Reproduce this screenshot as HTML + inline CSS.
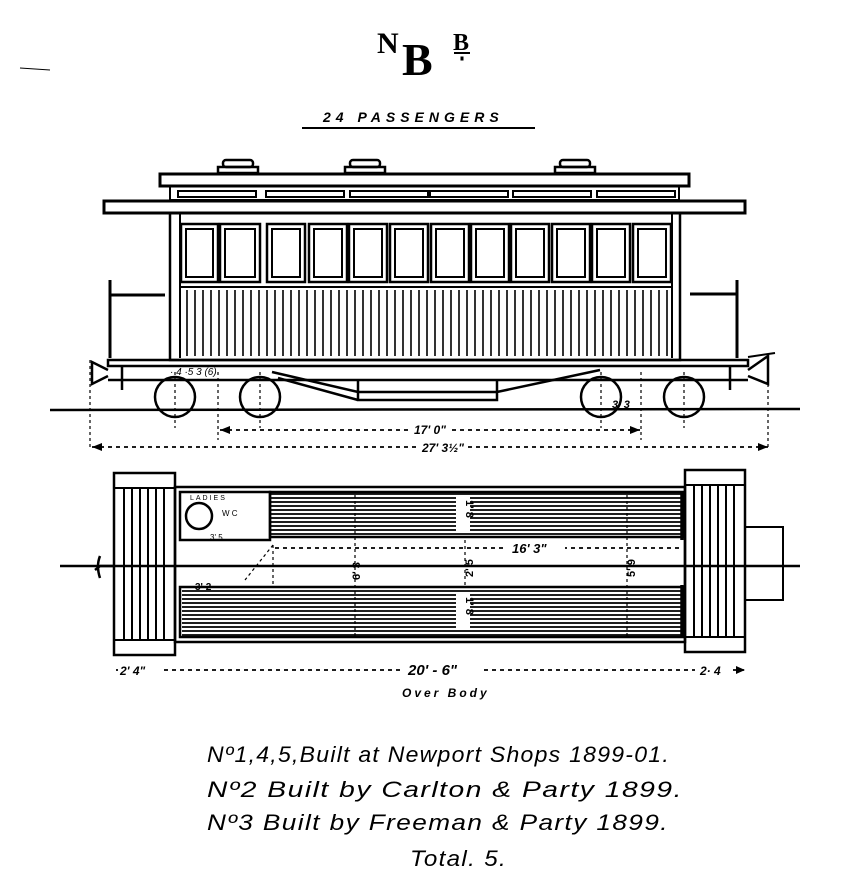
<!DOCTYPE html>
<html><head><meta charset="utf-8"><style>
html,body{margin:0;padding:0;background:#fff;width:863px;height:885px;overflow:hidden}
svg{display:block}
text{fill:#000}
.s{font-family:"Liberation Sans",sans-serif}
.r{font-family:"Liberation Serif",serif}
</style></head><body>
<svg width="863" height="885" viewBox="0 0 863 885" xmlns="http://www.w3.org/2000/svg" class="s">
<g stroke="#000" fill="none">
<text x="377" y="53" class="r" font-size="30" font-weight="bold" stroke="none">N</text>
<text x="402" y="75" class="r" font-size="46" font-weight="bold" stroke="none">B</text>
<text x="453" y="50" class="r" font-size="24" font-weight="bold" stroke="none">B</text>
<line x1="454" y1="53" x2="470" y2="53" stroke-width="2"/>
<rect x="461" y="57" width="2" height="3" fill="#000"/>
<text x="323" y="122" font-size="14" font-style="italic" font-weight="bold" letter-spacing="5" stroke="none">24 PASSENGERS</text>
<line x1="302" y1="128" x2="535" y2="128" stroke-width="2"/>
<line x1="20" y1="68" x2="50" y2="70" stroke-width="1"/>

<rect x="223" y="160" width="30" height="7" rx="3" stroke-width="2.5"/>
<rect x="350" y="160" width="30" height="7" rx="3" stroke-width="2.5"/>
<rect x="560" y="160" width="30" height="7" rx="3" stroke-width="2.5"/>
<rect x="218" y="167" width="40" height="6" stroke-width="2.5"/>
<rect x="345" y="167" width="40" height="6" stroke-width="2.5"/>
<rect x="555" y="167" width="40" height="6" stroke-width="2.5"/>
<rect x="160" y="174" width="529" height="12" stroke-width="3"/>
<rect x="170" y="186" width="509" height="14" stroke-width="2"/>
<g stroke-width="2">
<rect x="178" y="191" width="78" height="6"/><rect x="266" y="191" width="78" height="6"/>
<rect x="350" y="191" width="78" height="6"/><rect x="430" y="191" width="78" height="6"/>
<rect x="513" y="191" width="78" height="6"/><rect x="597" y="191" width="78" height="6"/>
</g>
<rect x="104" y="201" width="641" height="12" stroke-width="3"/>
<rect x="170" y="213" width="510" height="147" stroke-width="2.5"/>
<line x1="180" y1="213" x2="180" y2="358" stroke-width="2"/>
<line x1="672" y1="213" x2="672" y2="358" stroke-width="2"/>
<line x1="180" y1="287" x2="672" y2="287" stroke-width="2"/>
<g stroke-width="2.5">
<rect x="181" y="224" width="37" height="58"/><rect x="220" y="224" width="40" height="58"/>
<rect x="267" y="224" width="38" height="58"/><rect x="309" y="224" width="38" height="58"/>
<rect x="349" y="224" width="38" height="58"/><rect x="390" y="224" width="38" height="58"/>
<rect x="431" y="224" width="38" height="58"/><rect x="471" y="224" width="38" height="58"/>
<rect x="511" y="224" width="38" height="58"/><rect x="552" y="224" width="38" height="58"/>
<rect x="592" y="224" width="38" height="58"/><rect x="633" y="224" width="38" height="58"/>
</g>
<g stroke-width="2">
<rect x="186" y="229" width="27" height="48"/><rect x="225" y="229" width="30" height="48"/>
<rect x="272" y="229" width="28" height="48"/><rect x="314" y="229" width="28" height="48"/>
<rect x="354" y="229" width="28" height="48"/><rect x="395" y="229" width="28" height="48"/>
<rect x="436" y="229" width="28" height="48"/><rect x="476" y="229" width="28" height="48"/>
<rect x="516" y="229" width="28" height="48"/><rect x="557" y="229" width="28" height="48"/>
<rect x="597" y="229" width="28" height="48"/><rect x="638" y="229" width="28" height="48"/>
</g>
<path stroke-width="1.6" d="M187 290V356M195 290V356M203 290V356M211 290V356M219 290V356M227 290V356M235 290V356M243 290V356M251 290V356M259 290V356M267 290V356M275 290V356M283 290V356M291 290V356M299 290V356M307 290V356M315 290V356M323 290V356M331 290V356M339 290V356M347 290V356M355 290V356M363 290V356M371 290V356M379 290V356M387 290V356M395 290V356M403 290V356M411 290V356M419 290V356M427 290V356M435 290V356M443 290V356M451 290V356M459 290V356M467 290V356M475 290V356M483 290V356M491 290V356M499 290V356M507 290V356M515 290V356M523 290V356M531 290V356M539 290V356M547 290V356M555 290V356M563 290V356M571 290V356M579 290V356M587 290V356M595 290V356M603 290V356M611 290V356M619 290V356M627 290V356M635 290V356M643 290V356M651 290V356M659 290V356M667 290V356"/>
<path stroke-width="3" d="M110 280V358M110 295H165M737 280V358M690 294H737"/>
<rect x="108" y="360" width="640" height="6" stroke-width="2.5"/>
<line x1="108" y1="380" x2="748" y2="380" stroke-width="2.5"/>
<line x1="122" y1="366" x2="122" y2="390" stroke-width="2.5"/>
<line x1="730" y1="366" x2="730" y2="390" stroke-width="2.5"/>
<path stroke-width="2.5" d="M108 370L92 362V384L108 376M748 370L768 356V384L748 376"/>
<path stroke-width="2.5" d="M272 372L358 392H497L600 370M358 380V400H497V380M358 400L278 378"/>
<line x1="748" y1="357" x2="775" y2="353" stroke-width="2"/>
<g stroke-width="2.5">
<circle cx="175" cy="397" r="20"/><circle cx="260" cy="397" r="20"/>
<circle cx="601" cy="397" r="20"/><circle cx="684" cy="397" r="20"/>
</g>
<path stroke-width="1.2" stroke-dasharray="3 3" d="M175 372V428M260 372V428M601 372V428M684 372V428M218 372V440M641 372V440M90 360V450M768 360V450"/>
<line x1="50" y1="410" x2="800" y2="409" stroke-width="2.5"/>
<text x="170" y="375" font-size="10" stroke="none" font-style="italic">· 4 ·5 3 (6)</text>
<text x="612" y="408" font-size="11" stroke="none" font-style="italic" font-weight="bold">3' 3</text>
<line x1="220" y1="430" x2="640" y2="430" stroke-width="1.8" stroke-dasharray="4 4"/>
<path d="M220 430l10-4v8zM640 430l-10-4v8z" fill="#000" stroke="none"/>
<rect x="412" y="421" width="40" height="14" fill="#fff" stroke="none"/>
<text x="414" y="434" font-size="12" stroke="none" font-style="italic" font-weight="bold">17' 0"</text>
<line x1="92" y1="447" x2="768" y2="447" stroke-width="1.8" stroke-dasharray="4 4"/>
<path d="M92 447l10-4v8zM768 447l-10-4v8z" fill="#000" stroke="none"/>
<rect x="418" y="438" width="50" height="14" fill="#fff" stroke="none"/>
<text x="422" y="452" font-size="12" stroke="none" font-style="italic" font-weight="bold">27' 3½"</text>

<rect x="114" y="473" width="61" height="182" stroke-width="2.5"/>
<rect x="685" y="470" width="60" height="182" stroke-width="2.5"/>
<path stroke-width="2" d="M114 488H175M114 640H175M685 485H745M685 637H745"/>
<path stroke-width="2" d="M124 488V640M132 488V640M140 488V640M148 488V640M156 488V640M164 488V640M694 485V637M702 485V637M710 485V637M718 485V637M726 485V637M734 485V637"/>
<rect x="175" y="487" width="510" height="155" stroke-width="2.5"/>
<rect x="745" y="527" width="38" height="73" stroke-width="2"/>
<rect x="180" y="492" width="90" height="48" stroke-width="2.5"/>
<circle cx="199" cy="516" r="13" stroke-width="2.5"/>
<text x="190" y="500" font-size="7" stroke="none" letter-spacing="2">LADIES</text>
<text x="222" y="516" font-size="8" stroke="none">W C</text>
<g stroke-width="1.8">
<path d="M270 494H683M270 498H683M270 502H683M270 506H683M270 510H683M270 514H683M270 518H683M270 522H683M270 526H683M270 530H683M270 534H683"/>
<path d="M182 591H683M182 595H683M182 599H683M182 603H683M182 607H683M182 611H683M182 615H683M182 619H683M182 623H683M182 627H683M182 631H683M182 635H683"/>
</g>
<rect x="270" y="492" width="413" height="45" stroke-width="2.5"/>
<rect x="180" y="587" width="503" height="50" stroke-width="2.5"/>
<line x1="682" y1="492" x2="682" y2="540" stroke-width="3.5"/>
<line x1="682" y1="585" x2="682" y2="637" stroke-width="3.5"/>
<rect x="456" y="497" width="14" height="34" fill="#fff" stroke="none"/>
<text x="466" y="500" font-size="11" stroke="none" font-weight="bold" transform="rotate(90 466 500)">1' 8</text>
<rect x="456" y="594" width="14" height="34" fill="#fff" stroke="none"/>
<text x="466" y="597" font-size="11" stroke="none" font-weight="bold" transform="rotate(90 466 597)">1' 8</text>
<line x1="60" y1="566" x2="800" y2="566" stroke-width="2.5"/>
<path stroke-width="2.5" d="M114 566H100M100 556Q96 566 100 578M100 566L95 570"/>
<path stroke-width="1.2" stroke-dasharray="3 3" d="M355 495V637M465 540V587M273 545V587M627 495V637M273 545L245 580"/>
<line x1="275" y1="548" x2="680" y2="548" stroke-width="1.8" stroke-dasharray="4 4"/>
<rect x="505" y="540" width="60" height="14" fill="#fff" stroke="none"/>
<text x="512" y="553" font-size="13" stroke="none" font-style="italic" font-weight="bold">16' 3"</text>
<text x="344" y="580" font-size="11" stroke="none" font-weight="bold" transform="rotate(-90 352 572)">6' 3</text>
<text x="458" y="578" font-size="11" stroke="none" font-weight="bold" transform="rotate(-90 465 570)">2' 5</text>
<text x="620" y="578" font-size="11" stroke="none" font-weight="bold" transform="rotate(-90 627 570)">5' 9</text>
<text x="195" y="590" font-size="10" stroke="none" font-weight="bold">3' 2</text>
<text x="210" y="540" font-size="8" stroke="none">3' 5</text>
<line x1="116" y1="670" x2="745" y2="670" stroke-width="1.8" stroke-dasharray="4 4"/>
<path d="M745 670l-9-4v8z" fill="#000" stroke="none"/>
<rect x="118" y="661" width="44" height="16" fill="#fff" stroke="none"/>
<text x="120" y="675" font-size="12" stroke="none" font-style="italic" font-weight="bold">2' 4"</text>
<rect x="400" y="660" width="80" height="18" fill="#fff" stroke="none"/>
<text x="408" y="675" font-size="15" stroke="none" font-style="italic" font-weight="bold">20' - 6"</text>
<rect x="695" y="661" width="38" height="16" fill="#fff" stroke="none"/>
<text x="700" y="675" font-size="12" stroke="none" font-style="italic" font-weight="bold">2· 4</text>
<text x="402" y="697" font-size="12" stroke="none" font-style="italic" font-weight="bold" letter-spacing="3">Over Body</text>

<g font-size="22" font-style="italic" stroke="none" letter-spacing="1.2">
<text x="207" y="762" textLength="463" lengthAdjust="spacingAndGlyphs">Nº1,4,5,Built at Newport Shops 1899-01.</text>
<text x="207" y="797" textLength="476" lengthAdjust="spacingAndGlyphs">Nº2 Built by Carlton &amp; Party 1899.</text>
<text x="207" y="830" textLength="462" lengthAdjust="spacingAndGlyphs">Nº3 Built by Freeman &amp; Party 1899.</text>
<text x="410" y="866" textLength="97" lengthAdjust="spacingAndGlyphs">Total. 5.</text>
</g>
</g>
</svg>
</body></html>
